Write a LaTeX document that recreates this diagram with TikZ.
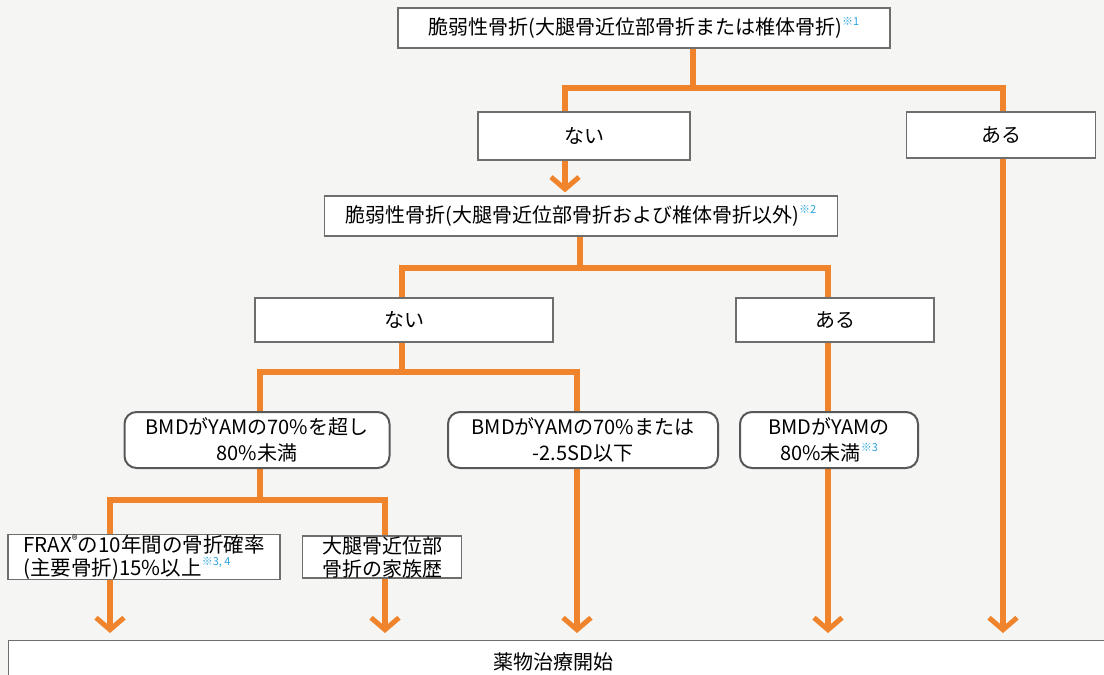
\documentclass[tikz,border=0pt]{standalone}
\usepackage{fontspec}
\setmainfont{Noto Sans CJK JP}
\usetikzlibrary{arrows.meta}
\definecolor{org}{HTML}{F0842C}
\definecolor{bord}{HTML}{6E6E6E}
\definecolor{note}{HTML}{2AA4DE}
\definecolor{page}{HTML}{F5F5F3}
\pgfdeclarelayer{bgl}
\pgfdeclarelayer{edges}
\pgfsetlayers{bgl,edges,main}
\newcommand{\fnote}[1]{\raisebox{0.45em}{\color{note}\fontsize{11}{11}\selectfont ※#1}}
\begin{document}
\begin{tikzpicture}[x=1pt,y=-1pt,
  sq/.style={draw=bord, line width=1.3pt, fill=white, inner sep=0pt, align=center,
    font=\fontsize{20}{26}\selectfont},
  rd/.style={sq, rounded corners=12pt, line width=2pt, draw=bord!80!black},
  conn/.style={draw=org, line width=6pt},
  arr/.style={conn, -{Straight Barb[length=12pt,width=28pt,line width=5pt]}}
]
\useasboundingbox (0,0) rectangle (1104,675);
\begin{pgfonlayer}{bgl}
  \fill[page] (0,0) rectangle (1104,675);
\end{pgfonlayer}

% nodes
\node[sq, minimum width=492pt, minimum height=40pt] (top) at (644,28)
  {脆弱性骨折(大腿骨近位部骨折または椎体骨折)\fnote{1}};
\node[sq, minimum width=212pt, minimum height=48pt] (nai1) at (584,136) {ない};
\node[sq, minimum width=189pt, minimum height=46pt] (aru1) at (1001,135) {ある};
\node[sq, minimum width=513pt, minimum height=40pt] (mid) at (581,216)
  {脆弱性骨折(大腿骨近位部骨折および椎体骨折以外)\fnote{2}};
\node[sq, minimum width=298pt, minimum height=44pt] (nai2) at (404,320) {ない};
\node[sq, minimum width=198pt, minimum height=44pt] (aru2) at (835,320) {ある};
\node[rd, minimum width=265pt, minimum height=56pt] (bmdA) at (257,440)
  {BMDがYAMの70\%を超し\\80\%未満};
\node[rd, minimum width=270pt, minimum height=56pt] (bmdB) at (583,440)
  {BMDがYAMの70\%または\\-2.5SD以下};
\node[rd, minimum width=178pt, minimum height=56pt] (bmdC) at (829,440)
  {BMDがYAMの\\80\%未満\fnote{3}};
\node[sq, minimum width=272pt, minimum height=42pt, align=left,
  font=\fontsize{20.5}{23}\selectfont] (frax) at (144,557)
  {FRAX\textsuperscript{\fontsize{12}{12}\selectfont ®}の10年間の骨折確率\\(主要骨折)15\%以上\fnote{3, 4}};
\node[sq, minimum width=159pt, minimum height=42pt,
  font=\fontsize{20}{23}\selectfont] (fam) at (382,557) {大腿骨近位部\\骨折の家族歴};
\node[sq, minimum width=1110pt, minimum height=50pt, anchor=north west] (final) at (8,640) {};
\node[font=\fontsize{20}{22}\selectfont] (finaltxt) at (553,662) {薬物治療開始};

% junctions
\coordinate (j1) at (693,88);
\coordinate (j1L) at (565,88);
\coordinate (j1R) at (1003,88);
\coordinate (j2) at (580,268);
\coordinate (j2L) at (402,268);
\coordinate (j2R) at (828,268);
\coordinate (j3) at (402,372);
\coordinate (j3L) at (260,372);
\coordinate (j3R) at (577,372);
\coordinate (j4) at (260,500);
\coordinate (j4L) at (110,500);
\coordinate (j4R) at (385,500);

\begin{pgfonlayer}{edges}
  \draw[conn] (top.south -| j1) -- (j1);
  \draw[conn, line cap=rect] (j1L) -- (j1R);
  \draw[conn] (j1L) -- (nai1.north -| j1L);
  \draw[arr] (nai1.south -| j1L) -- ([yshift=3pt]mid.north -| j1L);
  \draw[arr] (j1R) -- ([yshift=7pt]final.north -| j1R);

  \draw[conn] (mid.south -| j2) -- (j2);
  \draw[conn, line cap=rect] (j2L) -- (j2R);
  \draw[conn] (j2L) -- (nai2.north -| j2L);
  \draw[conn] (j2R) -- (aru2.north -| j2R);

  \draw[conn] (nai2.south -| j3) -- (j3);
  \draw[conn, line cap=rect] (j3L) -- (j3R);
  \draw[conn] (j3L) -- (bmdA.north -| j3L);
  \draw[conn] (j3R) -- (bmdB.north -| j3R);
  \draw[conn] (aru2.south -| j2R) -- (bmdC.north -| j2R);

  \draw[conn] (bmdA.south -| j4) -- (j4);
  \draw[conn, line cap=rect] (j4L) -- (j4R);
  \draw[arr] (j4L) -- ([yshift=7pt]final.north -| j4L);
  \draw[arr] (j4R) -- ([yshift=7pt]final.north -| j4R);
  \draw[arr] (bmdB.south -| j3R) -- ([yshift=7pt]final.north -| j3R);
  \draw[arr] (bmdC.south -| j2R) -- ([yshift=7pt]final.north -| j2R);
\end{pgfonlayer}
\end{tikzpicture}
\end{document}
